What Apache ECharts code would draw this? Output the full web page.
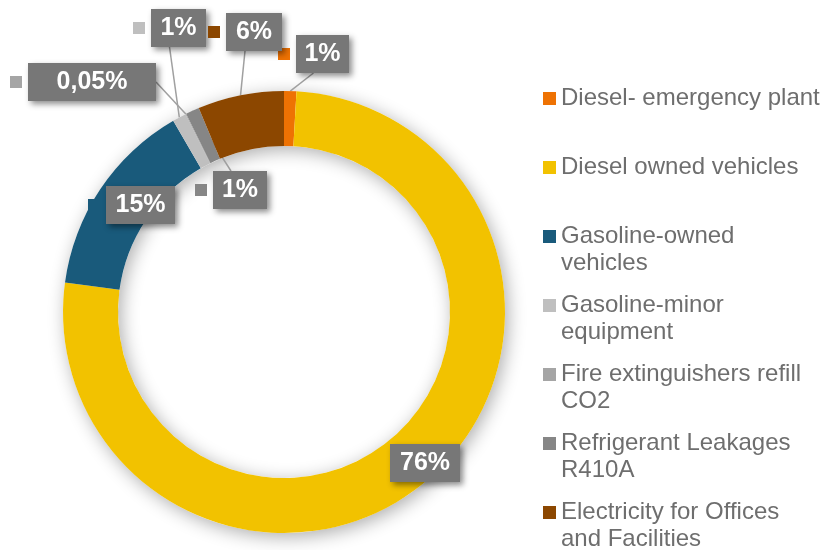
<!DOCTYPE html>
<html>
<head>
<meta charset="utf-8">
<script src="https://cdn.jsdelivr.net/npm/echarts@6/dist/echarts.min.js"></script>
<style>
  html, body { margin: 0; padding: 0; background: #fff; }
  #chart { width: 825px; height: 550px; }
</style>
</head>
<body>
<div id="chart"></div>
<script>
// categories, in drawing order (clockwise from 12 o'clock)
const categories = [
  'Diesel- emergency plant',
  'Diesel owned vehicles',
  'Gasoline-owned vehicles',
  'Gasoline-minor equipment',
  'Fire extinguishers refill CO2',
  'Refrigerant Leakages R410A',
  'Electricity for Offices and Facilities'
]
// legend text as wrapped in the picture
const legendText = [
  'Diesel- emergency plant\n ',
  'Diesel owned vehicles\n ',
  'Gasoline-owned\nvehicles',
  'Gasoline-minor\nequipment',
  'Fire extinguishers refill\nCO2',
  'Refrigerant Leakages\nR410A',
  'Electricity for Offices\nand Facilities'
]
// slice sizes read from the ring
const values = [0.9, 76.2, 14.5, 1.0, 0.05, 1.0, 6.3]
// percentages as printed on the labels
const labelText = ['1%', '76%', '15%', '1%', '0,05%', '1%', '6%']

const colors = ['#EE7203', '#F2C200', '#195A7B', '#BFBFBF', '#A5A5A5', '#868686', '#8C4700']

// label placement: left edge of the little square, vertical centre of the box
const labelPos = [[278, 54], [372, 463], [88, 205], [133, 28], [10, 82], [195, 190], [208, 32]]
const boxWidth = [53, 70, 69, 55, 128, 54, 56]
const hasLine = [true, false, false, true, true, true, true]

const font = 'Liberation Sans, Arial, sans-serif'
const center = [284, 312]
const radius = [166, 221]

const pieData = categories.map((name, i) => ({
  name: name,
  value: values[i],
  itemStyle: { color: colors[i] },
  label: {
    formatter: '{sq|}{g|}{b' + i + '|' + labelText[i] + '}',
    rich: {
      sq: { width: 12, height: 12, backgroundColor: colors[i] },
      g: { width: 6, height: 12 },
      ['b' + i]: {
        width: boxWidth[i],
        height: 38,
        lineHeight: 38,
        align: 'center',
        backgroundColor: '#777777',
        color: '#ffffff',
        fontSize: 25,
        fontWeight: 'bold',
        fontFamily: font,
        shadowColor: 'rgba(0,0,0,0.45)',
        shadowBlur: 6,
        shadowOffsetX: 3,
        shadowOffsetY: 3
      }
    }
  },
  labelLine: { show: hasLine[i] }
}))

const myChart = echarts.init(document.getElementById('chart'))
const option = {
  backgroundColor: '#ffffff',
  animation: false,
  legend: {
    data: categories,
    orient: 'vertical',
    left: 543,
    top: 58,
    height: 600,
    padding: 0,
    itemWidth: 13,
    itemHeight: 13,
    itemGap: -12,
    icon: 'rect',
    selectedMode: false,
    // an empty first line keeps the square level with the first text line
    formatter: (name) => ' \n' + legendText[categories.indexOf(name)],
    textStyle: {
      fontSize: 24,
      fontFamily: font,
      color: '#6e6e6e',
      lineHeight: 27
    }
  },
  series: [
    {
      // soft shadow under the ring
      type: 'pie',
      silent: true,
      center: center,
      radius: radius,
      z: 1,
      label: { show: false },
      labelLine: { show: false },
      data: [{
        value: 1,
        itemStyle: {
          color: '#ffffff',
          shadowColor: 'rgba(0,0,0,0.32)',
          shadowBlur: 18,
          shadowOffsetX: 3,
          shadowOffsetY: 4
        }
      }]
    },
    {
      name: 'Emissions',
      type: 'pie',
      z: 2,
      center: center,
      radius: radius,
      startAngle: 90,
      clockwise: true,
      avoidLabelOverlap: false,
      label: { show: true, position: 'outside', color: '#fff' },
      labelLine: {
        show: true,
        length: 10,
        length2: 0,
        lineStyle: { color: '#a0a0a0', width: 1.5 }
      },
      labelLayout: (params) => ({
        x: labelPos[params.dataIndex][0],
        y: labelPos[params.dataIndex][1],
        align: 'left',
        verticalAlign: 'middle'
      }),
      data: pieData
    }
  ]
}
myChart.setOption(option)

window.addEventListener('resize', () => {
  myChart.resize()
})
</script>
</body>
</html>
